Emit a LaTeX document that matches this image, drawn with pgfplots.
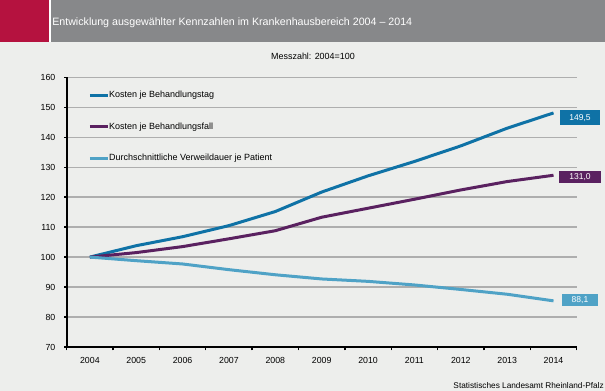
\documentclass[border=0pt]{standalone}
\usepackage{fontspec}
\setmainfont{Liberation Sans}
\usepackage{pgfplots}
\pgfplotsset{compat=1.18}
\definecolor{bg}{HTML}{EDEEEC}
\definecolor{titlegray}{HTML}{87888A}
\definecolor{titlered}{HTML}{B5123F}
\definecolor{gridgray}{HTML}{AEAEAE}
\definecolor{cblue}{HTML}{0F72A6}
\definecolor{cpurple}{HTML}{5A2160}
\definecolor{clight}{HTML}{4FA2C6}
\begin{document}
\begin{tikzpicture}
\begin{scope}[x=0.75pt,y=0.75pt]
\fill[bg] (0,0) rectangle (605,391);
\fill[titlegray] (51,349) rectangle (605,391);
\fill[titlered] (0,349) rectangle (49,391);
\fill[white] (49,349) rectangle (51,391);
\node[anchor=base west, inner sep=0pt, text=white, font=\fontsize{8}{9.6}\selectfont] at (52,365.5) {Entwicklung ausgewählter Kennzahlen im Krankenhausbereich 2004 – 2014};
\node[anchor=base, inner sep=0pt, font=\fontsize{6.7}{8}\selectfont] at (313,331.1) {Messzahl: 2004=100};
\node[anchor=base east, inner sep=0pt, font=\fontsize{6.2}{7}\selectfont] at (604,2.3) {Statistisches Landesamt Rheinland-Pfalz};
\end{scope}
\begin{axis}[
  at={(50.025pt,33pt)}, anchor=south west,
  scale only axis, width=382.5pt, height=202.3pt,
  xmin=2003.5, xmax=2014.5, ymin=70, ymax=160,
  axis x line*=bottom, axis y line*=left,
  axis line style={-, black, line width=1.5pt},
  xtick={2004,2005,...,2014},
  minor xtick={2003.5,2004.5,...,2014.5},
  major x tick style={draw=none},
  minor x tick style={black, line width=1pt},
  ytick={70,80,...,160},
  major y tick style={black, line width=1pt},
  tick align=outside,
  major tick length=2pt, minor tick length=2.5pt,
  ymajorgrids,
  major y grid style={draw=gridgray, line width=1pt},
  /pgf/number format/assume math mode=true,
  ticklabel style={font=\fontsize{6.6}{7.5}\selectfont},
  xticklabel style={/pgf/number format/1000 sep={}, yshift=-2pt},
  yticklabel style={xshift=-3pt},
  clip=false,
  legend style={at={(0.042,0.950)}, anchor=north west, draw=none, fill=none,
    font=\fontsize{6.75}{8}\selectfont, row sep=17.3pt, inner sep=0pt,
    nodes={inner sep=0pt}},
  legend cell align=left,
  legend image code/.code={\draw[#1] (0pt,0pt) -- (13.3pt,0pt);},
]
\addplot[cblue, line width=2.25pt] coordinates {
(2004,100) (2005,103.8) (2006,106.8) (2007,110.5) (2008,115.2) (2009,121.7)
(2010,127.1) (2011,131.9) (2012,137.1) (2013,143.0) (2014,148.1)};
\addlegendentry{Kosten je Behandlungstag}
\addplot[cpurple, line width=2.25pt] coordinates {
(2004,100) (2005,101.5) (2006,103.5) (2007,106.1) (2008,108.8) (2009,113.3)
(2010,116.3) (2011,119.3) (2012,122.4) (2013,125.2) (2014,127.3)};
\addlegendentry{Kosten je Behandlungsfall}
\addplot[clight, line width=2.25pt] coordinates {
(2004,100) (2005,98.8) (2006,97.7) (2007,95.8) (2008,94.1) (2009,92.7)
(2010,91.9) (2011,90.7) (2012,89.2) (2013,87.6) (2014,85.4)};
\addlegendentry{Durchschnittliche Verweildauer je Patient}
\node[fill=cblue, text=white, minimum width=30pt, minimum height=11pt, inner sep=0pt, font=\fontsize{6.4}{7}\selectfont] at (axis cs:2014.57,146.5) {149,5};
\node[fill=cpurple, text=white, minimum width=31pt, minimum height=9pt, inner sep=0pt, font=\fontsize{6.4}{7}\selectfont] at (axis cs:2014.57,126.8) {131,0};
\node[fill=clight, text=white, minimum width=27.5pt, minimum height=9pt, inner sep=0pt, font=\fontsize{6.4}{7}\selectfont] at (axis cs:2014.57,85.7) {88,1};
\end{axis}
\end{tikzpicture}
\end{document}
